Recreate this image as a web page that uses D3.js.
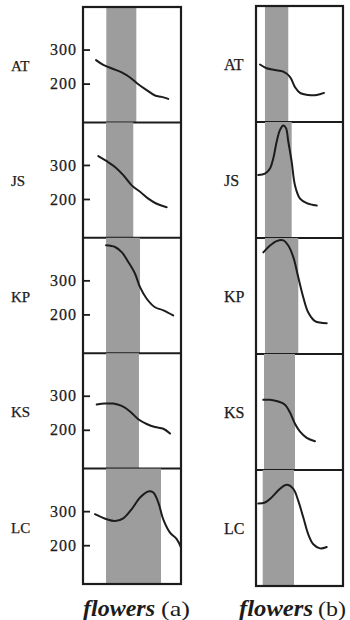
<!DOCTYPE html>
<html>
<head>
<meta charset="utf-8">
<script src="https://cdn.jsdelivr.net/npm/d3@7"></script>
<style>
  html, body { margin: 0; padding: 0; background: #fff; }
  svg { display: block; }
  svg text { font-family: "Liberation Serif", serif; }
</style>
</head>
<body>
<svg id="chart" width="350" height="620"></svg>
<script>
// Site names, one panel per row
const sites = ["AT", "JS", "KP", "KS", "LC"];
const yTicks = [200, 300];

// Flowering window (x on a 0–100 season scale), column (a)
const bandStartA = [23.8, 23.5, 23.5, 23.5, 23.5];
const bandEndA   = [54.4, 51.3, 58.2, 57.1, 79.6];
// Flowering window, column (b)
const bandStartB = [10.3, 10.3, 10.3, 9.2, 7.7];
const bandEndB   = [37.1, 41.0, 48.6, 44.8, 43.7];

// Curves, column (a): [season position, value]
const curveA_AT = [[13.3,269],[20.7,255],[30.9,243],[39.5,233],[48,218],[56.4,198],[65,181],[73.5,165],[80.3,161],[87,155]];
const curveA_JS = [[15.6,326],[24.2,311],[32.7,294],[41.1,270],[49.7,240],[58.2,221],[66.6,201],[75.2,186],[85.4,176]];
const curveA_KP = [[23.5,403],[32.7,398],[39.5,383],[46.2,354],[53,320],[58.2,280],[65,246],[73.5,221],[82,212],[92,197]];
const curveA_KS = [[14,274],[22.4,277],[30.9,277],[39.5,270],[48,254],[56.4,231],[65,217],[73.5,208],[82,203],[88.8,189]];
const curveA_LC = [[12.2,291],[24.2,276],[32.7,271],[41.1,279],[49.7,306],[58.2,340],[66.6,358],[71.7,355],[76.8,326],[81.9,276],[88.8,237],[95.6,218],[100,194]];

// Curves, column (b)
const curveB_AT = [[4.6,254],[12.3,243],[21.8,238],[31.4,233],[39,218],[44.8,188],[50.6,171],[60.1,165],[69.8,165],[78.2,171]];
const curveB_JS = [[2.6,270],[10.3,274],[16.1,289],[19.9,319],[23.8,368],[27.6,402],[31.4,415],[34.5,407],[37.1,368],[41,309],[44.8,240],[50.6,201],[58.3,188],[69.8,181]];
const curveB_KP = [[8.4,383],[16.1,403],[23.8,416],[31.4,418],[37.1,403],[42.9,369],[48.6,310],[54.4,251],[60.1,207],[67.8,182],[81.3,176]];
const curveB_KS = [[8.4,291],[16.1,291],[25.6,286],[33.3,277],[39.1,254],[44.8,221],[50.6,198],[58.3,180],[67.8,170]];
const curveB_LC = [[2.6,327],[10.3,330],[18,345],[27.6,370],[35.3,382],[42.9,370],[48.6,335],[54.4,286],[60.1,237],[65.9,208],[73.6,196],[81.3,200]];

const columns = [
  { label: "(a)", bandStart: bandStartA, bandEnd: bandEndA,
    curves: [curveA_AT, curveA_JS, curveA_KP, curveA_KS, curveA_LC],
    left: 83, right: 181, top: 7, bottom: 584, axis: true,
    siteX: 11, titleX: 83, titleW: 72, tagX: 161, tagW: 29 },
  { label: "(b)", bandStart: bandStartB, bandEnd: bandEndB,
    curves: [curveB_AT, curveB_JS, curveB_KP, curveB_KS, curveB_LC],
    left: 256, right: 343, top: 6, bottom: 586, axis: false,
    siteX: 224, titleX: 239, titleW: 74, tagX: 318, tagW: 28 }
];

const ink = "#1c1c1c";
const svg = d3.select("#chart");

columns.forEach(col => {
  const x = d3.scaleLinear().domain([0, 100]).range([col.left, col.right]);
  const rows = d3.scaleBand().domain(sites).range([col.top, col.bottom]);
  const g = svg.append("g");

  sites.forEach((site, i) => {
    const top = rows(site), h = rows.bandwidth();
    const y = d3.scaleLinear().domain([86, 425]).range([top + h, top]);
    const p = g.append("g");

    // flowering window
    p.append("rect")
      .attr("x", x(col.bandStart[i]))
      .attr("y", top)
      .attr("width", x(col.bandEnd[i]) - x(col.bandStart[i]))
      .attr("height", h)
      .attr("fill", "#9d9d9d");

    // value curve
    p.append("path")
      .datum(col.curves[i])
      .attr("fill", "none")
      .attr("stroke", ink)
      .attr("stroke-width", 2)
      .attr("stroke-linecap", "round")
      .attr("d", d3.line().x(d => x(d[0])).y(d => y(d[1])).curve(d3.curveCatmullRom.alpha(0.5)));

    // y axis with inward ticks
    if (col.axis) {
      const ax = p.append("g")
        .attr("transform", `translate(${col.left},0)`)
        .call(d3.axisLeft(y).tickValues(yTicks).tickSize(-7).tickPadding(6));
      ax.attr("font-family", null);
      ax.select(".domain").remove();
      ax.selectAll(".tick line").attr("stroke", ink).attr("stroke-width", 1.8);
      ax.selectAll(".tick text")
        .attr("font-size", 16)
        .attr("letter-spacing", 1)
        .attr("fill", ink)
        .attr("stroke", ink)
        .attr("stroke-width", 0.25);
    }

    // site label
    svg.append("text")
      .attr("x", col.siteX)
      .attr("y", top + 64)
      .attr("font-size", col.axis ? 15 : 16)
      .attr("fill", ink)
      .attr("stroke", ink)
      .attr("stroke-width", 0.25)
      .text(site);

    // divider under each panel except the last
    if (i < sites.length - 1) {
      g.append("line")
        .attr("x1", col.left).attr("x2", col.right)
        .attr("y1", top + h).attr("y2", top + h)
        .attr("stroke", ink).attr("stroke-width", 2);
    }
  });

  // frame around the column
  g.append("rect")
    .attr("x", col.left).attr("y", col.top)
    .attr("width", col.right - col.left)
    .attr("height", col.bottom - col.top)
    .attr("fill", "none")
    .attr("stroke", ink)
    .attr("stroke-width", 2.2);

  // column caption
  svg.append("text")
    .attr("x", col.titleX).attr("y", 616)
    .attr("font-size", 23)
    .attr("font-weight", "bold")
    .attr("font-style", "italic")
    .attr("fill", ink)
    .attr("textLength", col.titleW)
    .attr("lengthAdjust", "spacingAndGlyphs")
    .text("flowers");
  svg.append("text")
    .attr("x", col.tagX).attr("y", 616)
    .attr("font-size", 22)
    .attr("fill", ink)
    .attr("textLength", col.tagW)
    .attr("lengthAdjust", "spacingAndGlyphs")
    .text(col.label);
});
</script>
</body>
</html>
